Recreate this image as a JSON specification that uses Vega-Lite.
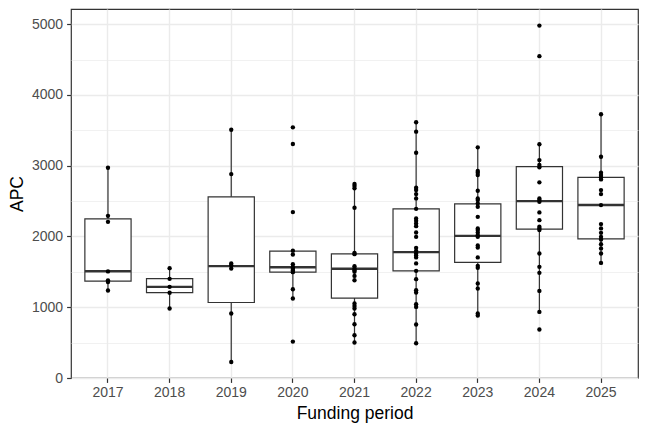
{
  "$schema": "https://vega.github.io/schema/vega-lite/v6.json",
  "width": 567,
  "height": 369,
  "autosize": {"type": "none"},
  "padding": {"left": 71, "top": 9, "right": 10, "bottom": 54},
  "background": "white",
  "config": {
    "font": "Liberation Sans",
    "view": {"stroke": "#333333", "strokeWidth": 1.2},
    "axis": {
      "domain": false,
      "gridColor": "#EBEBEB",
      "gridWidth": 1.4,
      "tickColor": "#333333",
      "tickSize": 4.4,
      "tickWidth": 1.2,
      "labelColor": "#4D4D4D",
      "labelFontSize": 14,
      "labelFont": "Liberation Sans",
      "titleFont": "Liberation Sans",
      "titleFontSize": 17.5,
      "titleFontWeight": "normal",
      "titleColor": "#000000"
    }
  },
  "datasets": {
    "boxes": [
      {"year": "2017", "lo": 1237, "q1": 1368, "med": 1508, "q3": 2250, "hi": 2972},
      {"year": "2018", "lo": 982, "q1": 1206, "med": 1288, "q3": 1404, "hi": 1552},
      {"year": "2019", "lo": 226, "q1": 1067, "med": 1581, "q3": 2561, "hi": 3509},
      {"year": "2020", "lo": 1123, "q1": 1496, "med": 1566, "q3": 1793, "hi": 1807},
      {"year": "2021", "lo": 501, "q1": 1130, "med": 1543, "q3": 1755, "hi": 2741},
      {"year": "2022", "lo": 491, "q1": 1514, "med": 1779, "q3": 2391, "hi": 3614},
      {"year": "2023", "lo": 883, "q1": 1633, "med": 2009, "q3": 2462, "hi": 3260},
      {"year": "2024", "lo": 934, "q1": 2104, "med": 2500, "q3": 2986, "hi": 3303},
      {"year": "2025", "lo": 1627, "q1": 1965, "med": 2444, "q3": 2836, "hi": 3727}
    ],
    "points": [
      {"year": "2017", "apc": 2972}, {"year": "2017", "apc": 2292}, {"year": "2017", "apc": 2207},
      {"year": "2017", "apc": 1506}, {"year": "2017", "apc": 1380}, {"year": "2017", "apc": 1355},
      {"year": "2017", "apc": 1237},
      {"year": "2018", "apc": 1552}, {"year": "2018", "apc": 1401}, {"year": "2018", "apc": 1288},
      {"year": "2018", "apc": 1205}, {"year": "2018", "apc": 982},
      {"year": "2019", "apc": 3509}, {"year": "2019", "apc": 2882}, {"year": "2019", "apc": 1619},
      {"year": "2019", "apc": 1595}, {"year": "2019", "apc": 1548}, {"year": "2019", "apc": 911},
      {"year": "2019", "apc": 226},
      {"year": "2020", "apc": 3543}, {"year": "2020", "apc": 3307}, {"year": "2020", "apc": 2345},
      {"year": "2020", "apc": 1800}, {"year": "2020", "apc": 1746}, {"year": "2020", "apc": 1609},
      {"year": "2020", "apc": 1566}, {"year": "2020", "apc": 1545}, {"year": "2020", "apc": 1520},
      {"year": "2020", "apc": 1496}, {"year": "2020", "apc": 1255}, {"year": "2020", "apc": 1123},
      {"year": "2020", "apc": 515},
      {"year": "2021", "apc": 2741}, {"year": "2021", "apc": 2713}, {"year": "2021", "apc": 2680},
      {"year": "2021", "apc": 2406}, {"year": "2021", "apc": 1769}, {"year": "2021", "apc": 1750},
      {"year": "2021", "apc": 1581}, {"year": "2021", "apc": 1548}, {"year": "2021", "apc": 1524},
      {"year": "2021", "apc": 1500}, {"year": "2021", "apc": 1443}, {"year": "2021", "apc": 1382},
      {"year": "2021", "apc": 1053}, {"year": "2021", "apc": 1019}, {"year": "2021", "apc": 982},
      {"year": "2021", "apc": 901}, {"year": "2021", "apc": 760}, {"year": "2021", "apc": 604},
      {"year": "2021", "apc": 501},
      {"year": "2022", "apc": 3614}, {"year": "2022", "apc": 3481}, {"year": "2022", "apc": 3184},
      {"year": "2022", "apc": 2689}, {"year": "2022", "apc": 2656}, {"year": "2022", "apc": 2599},
      {"year": "2022", "apc": 2538}, {"year": "2022", "apc": 2391}, {"year": "2022", "apc": 2255},
      {"year": "2022", "apc": 2221}, {"year": "2022", "apc": 2184}, {"year": "2022", "apc": 2146},
      {"year": "2022", "apc": 2057}, {"year": "2022", "apc": 1995}, {"year": "2022", "apc": 1840},
      {"year": "2022", "apc": 1797}, {"year": "2022", "apc": 1760}, {"year": "2022", "apc": 1732},
      {"year": "2022", "apc": 1704}, {"year": "2022", "apc": 1619}, {"year": "2022", "apc": 1514},
      {"year": "2022", "apc": 1397}, {"year": "2022", "apc": 1241}, {"year": "2022", "apc": 1208},
      {"year": "2022", "apc": 1043}, {"year": "2022", "apc": 1005}, {"year": "2022", "apc": 756},
      {"year": "2022", "apc": 491},
      {"year": "2023", "apc": 3260}, {"year": "2023", "apc": 2925}, {"year": "2023", "apc": 2901},
      {"year": "2023", "apc": 2868}, {"year": "2023", "apc": 2646}, {"year": "2023", "apc": 2538},
      {"year": "2023", "apc": 2514}, {"year": "2023", "apc": 2468}, {"year": "2023", "apc": 2420},
      {"year": "2023", "apc": 2278}, {"year": "2023", "apc": 2114}, {"year": "2023", "apc": 2090},
      {"year": "2023", "apc": 2057}, {"year": "2023", "apc": 2019}, {"year": "2023", "apc": 1995},
      {"year": "2023", "apc": 1873}, {"year": "2023", "apc": 1845}, {"year": "2023", "apc": 1704},
      {"year": "2023", "apc": 1585}, {"year": "2023", "apc": 1557}, {"year": "2023", "apc": 1336},
      {"year": "2023", "apc": 1265}, {"year": "2023", "apc": 911}, {"year": "2023", "apc": 883},
      {"year": "2024", "apc": 4981}, {"year": "2024", "apc": 4548}, {"year": "2024", "apc": 3303},
      {"year": "2024", "apc": 3080}, {"year": "2024", "apc": 3010}, {"year": "2024", "apc": 2977},
      {"year": "2024", "apc": 2765}, {"year": "2024", "apc": 2538}, {"year": "2024", "apc": 2514},
      {"year": "2024", "apc": 2490}, {"year": "2024", "apc": 2340}, {"year": "2024", "apc": 2231},
      {"year": "2024", "apc": 2137}, {"year": "2024", "apc": 2114}, {"year": "2024", "apc": 2090},
      {"year": "2024", "apc": 1760}, {"year": "2024", "apc": 1571}, {"year": "2024", "apc": 1486},
      {"year": "2024", "apc": 1231}, {"year": "2024", "apc": 934}, {"year": "2024", "apc": 685},
      {"year": "2025", "apc": 3727}, {"year": "2025", "apc": 3127}, {"year": "2025", "apc": 2901},
      {"year": "2025", "apc": 2868}, {"year": "2025", "apc": 2836}, {"year": "2025", "apc": 2807},
      {"year": "2025", "apc": 2656}, {"year": "2025", "apc": 2599}, {"year": "2025", "apc": 2444},
      {"year": "2025", "apc": 2175}, {"year": "2025", "apc": 2114}, {"year": "2025", "apc": 2052},
      {"year": "2025", "apc": 1995}, {"year": "2025", "apc": 1958}, {"year": "2025", "apc": 1892},
      {"year": "2025", "apc": 1831}, {"year": "2025", "apc": 1760}, {"year": "2025", "apc": 1627}
    ]
  },
  "resolve": {"axis": {"y": "independent"}},
  "layer": [
    {
      "data": {"name": "boxes"},
      "mark": {"type": "rule", "color": "#333333", "strokeWidth": 1.2},
      "encoding": {
        "x": {
          "field": "year", "type": "nominal",
          "scale": {"paddingInner": 0, "paddingOuter": 0.1},
          "axis": {"title": "Funding period", "labelAngle": 0, "grid": true, "bandPosition": 0.5, "labelPadding": 3, "titlePadding": 5}
        },
        "y": {
          "field": "lo", "type": "quantitative",
          "scale": {"domain": [0, 5215], "nice": false, "zero": false},
          "axis": {"title": "APC", "values": [0, 1000, 2000, 3000, 4000, 5000], "format": "d", "labelPadding": 4, "titlePadding": 5}
        },
        "y2": {"field": "hi"}
      }
    },
    {
      "data": {"name": "boxes"},
      "mark": {"type": "bar", "fill": "white", "stroke": "#333333", "strokeWidth": 1.2, "width": {"band": 0.75}},
      "encoding": {
        "x": {"field": "year", "type": "nominal"},
        "y": {
          "field": "q1", "type": "quantitative",
          "axis": {"orient": "left", "title": null, "values": [500, 1500, 2500, 3500, 4500], "labels": false, "ticks": false, "grid": true, "gridWidth": 0.7, "gridColor": "#EBEBEB"}
        },
        "y2": {"field": "q3"}
      }
    },
    {
      "data": {"name": "boxes"},
      "mark": {"type": "tick", "color": "#333333", "thickness": 2.4, "size": 46, "opacity": 1},
      "encoding": {
        "x": {"field": "year", "type": "nominal"},
        "y": {"field": "med", "type": "quantitative", "axis": null}
      }
    },
    {
      "data": {"name": "points"},
      "mark": {"type": "circle", "color": "black", "opacity": 1, "size": 19},
      "encoding": {
        "x": {"field": "year", "type": "nominal"},
        "y": {"field": "apc", "type": "quantitative", "axis": null}
      }
    }
  ]
}
